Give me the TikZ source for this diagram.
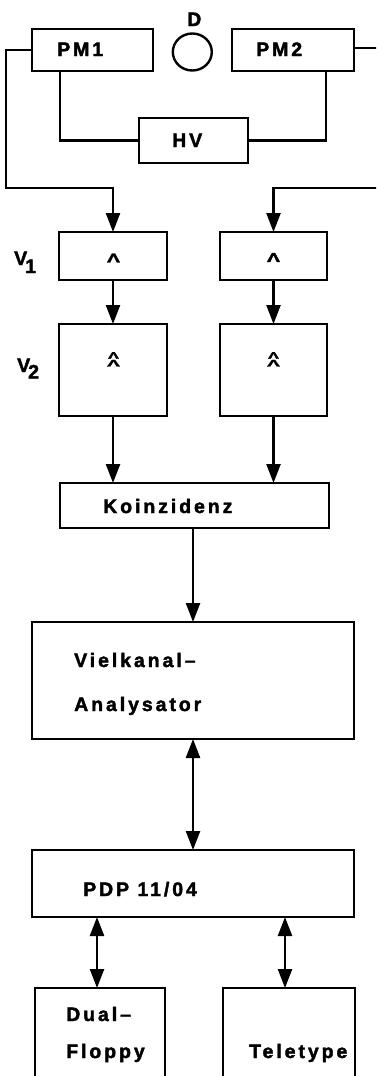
\documentclass[tikz,border=0pt]{standalone}
\usepackage{fontspec}
\usetikzlibrary{arrows.meta,shapes.geometric}
\newfontfamily\labfont{Liberation Sans}[LetterSpace=15, BoldFont={Liberation Sans Bold}, BoldFeatures={FakeBold=2}]
\newfontfamily\symfont{Liberation Sans}[BoldFont={Liberation Sans Bold}, BoldFeatures={FakeBold=2}]
\newcommand\wedgestack{\vbox{\offinterlineskip
  \hbox to 0pt{\hss\scalebox{1.7}[1]{Λ}\hss}\kern1.2pt
  \hbox to 0pt{\hss\scalebox{2}[1]{Λ}\hss}}}
\begin{document}
\begin{tikzpicture}[x=1pt,y=-1pt, line width=2.4pt,
  box/.style={draw, line width=2.4pt, inner sep=0pt, outer sep=0pt},
  lbl/.style={inner sep=0pt, anchor=base west,
    font=\labfont\bfseries\fontsize{19.5}{21}\selectfont},
  sym/.style={inner sep=0pt, font=\symfont\bfseries\fontsize{13}{13}\selectfont},
  symstack/.style={inner sep=0pt, font=\symfont\bfseries\fontsize{9.5}{10}\selectfont},
  arr/.style={-{Triangle[length=19pt,width=14pt]}},
  darr/.style={{Triangle[length=19pt,width=14pt]}-{Triangle[length=19pt,width=14pt]}},
]
\clip (0,0) rectangle (376,1076);
\fill[white] (0,0) rectangle (376,1076);

% detector head
\node[box, minimum width=121, minimum height=42] (pm1) at (92.5,50) {};
\node[box, minimum width=122, minimum height=42] (pm2) at (293,50) {};
\node[draw, ellipse, line width=2.4pt, inner sep=0pt, outer sep=0pt,
      minimum width=39, minimum height=37] (d) at (192.3,52) {};
\node[box, minimum width=109, minimum height=45] (hv) at (193.5,140.5) {};

% amplifier chains
\node[box, minimum width=108, minimum height=48] (v1l) at (113,256) {};
\node[box, minimum width=107, minimum height=48] (v1r) at (273.5,256) {};
\node[box, minimum width=108, minimum height=92] (v2l) at (113,370) {};
\node[box, minimum width=107, minimum height=92] (v2r) at (273.5,370) {};

% coincidence, analyser, computer, peripherals
\node[box, minimum width=269, minimum height=45] (koin) at (194.5,505.5) {};
\node[box, minimum width=322, minimum height=117] (mca) at (193,680.5) {};
\node[box, minimum width=322, minimum height=67] (pdp) at (193,883.5) {};
\node[box, minimum width=130, minimum height=140] (floppy) at (100,1058) {};
\node[box, minimum width=132, minimum height=140] (tty) at (289,1058) {};

% texts
\node[lbl] (pm1-t) at (56,56) {PM1};
\node[lbl] (pm2-t) at (255,56) {PM2};
\node[lbl] (d-t) at (186,26) {D};
\node[lbl] (hv-t) at (171,147) {HV};
\node[lbl] (v1-t) at (13,265) {V\kern-2pt\raisebox{-8pt}{1}};
\node[lbl] (v2-t) at (16,372) {V\kern-2pt\raisebox{-6.5pt}{2}};
\node[lbl] (koin-t) at (102,513) {Koinzidenz};
\node[lbl] (mca-t1) at (73,667) {Vielkanal–};
\node[lbl] (mca-t2) at (73,711) {Analysator};
\node[lbl] (pdp-t) at (82,896) {PDP 11/04};
\node[lbl] (fl-t1) at (65,1021) {Dual–};
\node[lbl] (fl-t2) at (65,1058) {Floppy};
\node[lbl] (tty-t) at (248,1058) {Teletype};

% logic symbols
\node[sym] (s1l) at (113.5,258) {\scalebox{1.5}[1]{Λ}};
\node[sym] (s1r) at (273.5,257.5) {\scalebox{1.5}[1]{Λ}};
\node[symstack] (s2l) at (113.5,359.3) {\wedgestack};
\node[symstack] (s2r) at (273.5,359.3) {\wedgestack};

% bend points of the signal cables
\coordinate (tl) at (6,188);
\coordinate (tr) at (382,188);

% connections
\draw ([xshift=28pt]pm1.south west) |- (hv.west);
\draw ([xshift=-28pt]pm2.south east) |- (hv.east);
\draw[arr] (pm1.west) -| (tl) -| (v1l.north);
\draw[arr] ([yshift=2pt]pm2.east) -| (tr) -| (v1r.north);
\draw[arr] (v1l.south) -- (v2l.north);
\draw[arr] (v1r.south) -- (v2r.north);
\draw[arr] (v2l.south) -- (v2l.south |- koin.north);
\draw[arr] (v2r.south) -- (v2r.south |- koin.north);
\draw[arr] (koin.south -| mca.north) -- (mca.north);
\draw[darr] (mca.south) -- (pdp.north);
\draw[darr] ([xshift=-3pt]pdp.south -| floppy.north) -- ([xshift=-3pt]floppy.north);
\draw[darr] ([xshift=-4pt]pdp.south -| tty.north) -- ([xshift=-4pt]tty.north);
\end{tikzpicture}
\end{document}
